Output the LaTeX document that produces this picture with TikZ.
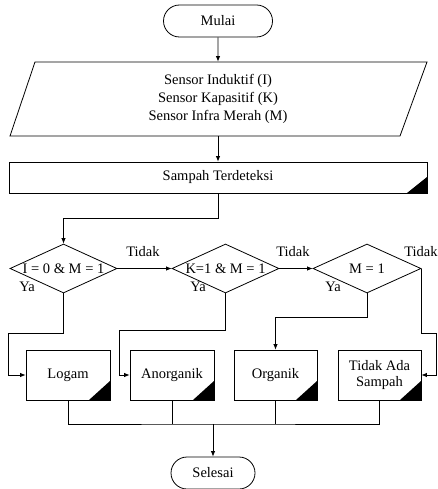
\documentclass[tikz,border=0pt]{standalone}
\usepackage{fontspec}
\setmainfont{Liberation Serif}
\usetikzlibrary{shapes.geometric,shapes.misc,arrows.meta,calc}
\begin{document}
\begin{tikzpicture}[x=1pt,y=-1pt,
  font=\fontsize{14.5}{18}\selectfont,
  line width=0.8pt,
  arr/.style={-{Latex[length=5.5pt,width=4.5pt]}},
  term/.style={rounded rectangle, draw, minimum height=32pt, inner sep=0pt},
  dec/.style={diamond, draw, minimum height=49pt, inner sep=0pt},
  proc/.style 2 args={rectangle, draw, inner sep=0pt, align=center,
    path picture={\fill (path picture bounding box.south east) -- ++(-#1,0pt) -- ++(#1,#2) -- cycle;}},
  lbl/.style={inner sep=0pt}
]
\useasboundingbox (0,0) rectangle (437,489);

% start
\node[term, minimum width=109pt] (mulai) at (218,21) {Mulai};

% input
\node[inner sep=0pt, minimum width=380pt, minimum height=74pt, align=center] (sensor) at (218,99)
  {Sensor Induktif (I)\\Sensor Kapasitif (K)\\Sensor Infra Merah (M)};
\draw (10,136) -- (35,62) -- (427,62) -- (400,136) -- cycle;

% process
\node[proc={20pt}{16pt}, minimum width=418pt, minimum height=31pt] (st) at (218,177.5) {Sampah Terdeteksi};

% decisions
\node[dec, minimum width=107pt] (d1) at (63.5,268.5) {};
\node[lbl] (t1) at (d1) {I = 0 \& M = 1};
\node[dec, minimum width=107pt] (d2) at (225.5,268.5) {};
\node[lbl] (t2) at (d2) {K=1 \& M = 1};
\node[dec, minimum width=108pt] (d3) at (367,268.5) {};
\node[lbl] (t3) at (d3) {M = 1};

% labels
\node[lbl] (tk1) at (143,252) {Tidak};
\node[lbl] (tk2) at (293,252) {Tidak};
\node[lbl] (tk3) at (421,252) {Tidak};
\node[lbl] (ya1) at (27,287) {Ya};
\node[lbl] (ya2) at (198,287) {Ya};
\node[lbl] (ya3) at (333,287) {Ya};

% output boxes
\node[proc={21pt}{19pt}, minimum width=84pt, minimum height=50pt] (b1) at (68,375) {Logam};
\node[proc={21pt}{19pt}, minimum width=84pt, minimum height=50pt] (b2) at (172,375) {Anorganik};
\node[proc={21pt}{19pt}, minimum width=83pt, minimum height=50pt] (b3) at (275.5,375) {Organik};
\node[proc={21pt}{19pt}, minimum width=83pt, minimum height=50pt, font=\fontsize{14.5}{15.5}\selectfont] (b4) at (379.5,375) {Tidak Ada\\Sampah};

% end
\node[term, minimum width=84pt] (selesai) at (213,473) {Selesai};

% connectors
\draw[arr] (mulai) -- (sensor.north);
\draw[arr] (sensor.south) -- (st.north);
\draw[arr] (st.south) -- ++(0,25) -| (d1.north);
\draw[arr] (d1.east) -- (d2.west);
\draw[arr] (d2.east) -- (d3.west);

\coordinate (c1) at (8,333);
\coordinate (c2) at (119,330);
\coordinate (c3) at (275.5,317);
\coordinate (c4) at (436,333);
\draw[arr] (d1.south) |- (c1) |- (b1.west);
\draw[arr] (d2.south) |- (c2) |- (b2.west);
\draw[arr] (d3.south) |- (c3) -- (b3.north);
\draw[arr] (d3.east) |- (c4) |- (b4.east);

\coordinate (m) at (213,424);
\draw (b1.south) |- (m) -| (b4.south);
\draw (b2.south) -- (b2.south |- m);
\draw (b3.south) -- (b3.south |- m);
\draw[arr] (m) -- (selesai);
\end{tikzpicture}
\end{document}
